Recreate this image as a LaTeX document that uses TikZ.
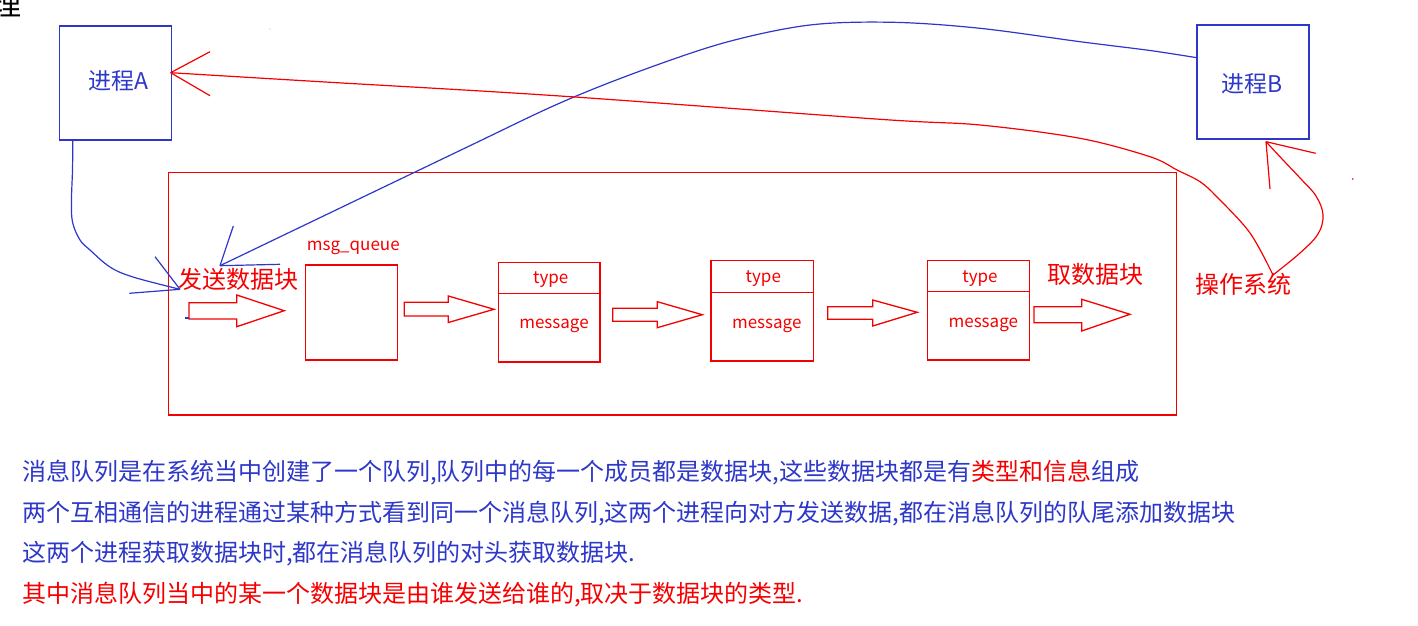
\documentclass[tikz,border=0pt]{standalone}
\usepackage{fontspec}
\setmainfont{Noto Sans CJK SC}
\usetikzlibrary{calc}
\definecolor{inkblue}{RGB}{45,55,200}
\definecolor{inkred}{RGB}{245,0,0}
\tikzset{
  procbox/.style={draw=inkblue, line width=1.3pt, minimum width=112, minimum height=114, inner sep=0pt},
  redbox/.style={draw=inkred, line width=1.3pt, inner sep=0pt},
  bluelbl/.style={text=inkblue, inner sep=0pt, anchor=base, font=\fontsize{23}{26}\selectfont},
  redlbl/.style={text=inkred, inner sep=0pt, anchor=base, font=\fontsize{24}{27}\selectfont},
  smalllbl/.style={text=inkred, inner sep=0pt, anchor=base, font=\fontsize{17}{20}\selectfont},
  noteline/.style={text=inkblue, inner sep=0pt, anchor=base west, font=\fontsize{24}{28}\selectfont},
  blueline/.style={draw=inkblue, line width=1.2pt},
  redline/.style={draw=inkred, line width=1.2pt},
  blockarrow/.style={draw=inkred, line width=1.3pt, line join=miter},
}
\begin{document}
\begin{tikzpicture}[x=1pt,y=-1pt]
\useasboundingbox (0,0) rectangle (1418,626);
\clip (0,0) rectangle (1418,626);

% cut-off title glyph
\node[inner sep=0pt, anchor=base, font=\fontsize{30}{32}\selectfont] (title) at (6,16) {理};
\fill[gray!60] (270,29) circle (0.6);

% processes
\node[procbox] (A) at (115.5,83) {};
\node[bluelbl] (Atxt) at (118,89.5) {进程A};
\node[procbox] (B) at (1253,82) {};
\node[bluelbl] (Btxt) at (1251.7,92.5) {进程B};

% operating system frame
\node[redbox, minimum width=1008.4, minimum height=242.7] (os) at (672.5,293.7) {};
\node[redlbl] (ostxt) at (1243.5,293) {操作系统};
\node[redlbl] (send) at (238,288) {发送数据块};
\node[redlbl] (recv) at (1095,283) {取数据块};

% msg_queue
\node[redbox, minimum width=92, minimum height=95] (mq) at (351.3,312.5) {};
\node[smalllbl] (mqtxt) at (353.3,250) {msg\_queue};

% message blocks
\node[redbox, minimum width=101.7, minimum height=99.7] (b1) at (549.2,312.2) {};
\draw[redline] ($(b1.north west)+(0,31.4)$) -- ($(b1.north east)+(0,31.4)$);
\node[smalllbl] (t1) at (550.7,283.3) {type};
\node[smalllbl] (m1) at (554,328.5) {message};

\node[redbox, minimum width=102.3, minimum height=100.3] (b2) at (762.2,310.9) {};
\draw[redline] ($(b2.north west)+(0,32)$) -- ($(b2.north east)+(0,32)$);
\node[smalllbl] (t2) at (763.3,282.6) {type};
\node[smalllbl] (m2) at (766.7,328.2) {message};

\node[redbox, minimum width=101.6, minimum height=99.3] (b3) at (978.5,310.4) {};
\draw[redline] ($(b3.north west)+(0,31.6)$) -- ($(b3.north east)+(0,31.6)$);
\node[smalllbl] (t3) at (980,282.3) {type};
\node[smalllbl] (m3) at (983.3,327.6) {message};

% hollow block arrows
\draw[blockarrow] (189,302.7) -- (236.7,302.7) -- (236.7,295) -- (284.3,310.7) -- (236.7,326.7) -- (236.7,319) -- (189,319) -- cycle;
\draw[blockarrow] (404.3,302.3) -- (448.3,302.3) -- (448.3,296) -- (494,309.3) -- (448.3,322.5) -- (448.3,316) -- (404.3,316) -- cycle;
\draw[blockarrow] (612.7,308.3) -- (657.3,308.3) -- (657.3,301.7) -- (702.3,314.7) -- (657.3,327.7) -- (657.3,321.3) -- (612.7,321.3) -- cycle;
\draw[blockarrow] (827.7,306.7) -- (872.7,306.7) -- (872.7,300) -- (917.3,312.3) -- (872.7,326) -- (872.7,319.3) -- (827.7,319.3) -- cycle;
\draw[blockarrow] (1034,306.7) -- (1081.7,306.7) -- (1081.7,299.3) -- (1130,314.3) -- (1081.7,331) -- (1081.7,322.7) -- (1034,322.7) -- cycle;

% connector coordinates
\coordinate (aStart) at ($(A.south west)+(14,0)$);
\coordinate (aTip) at (180,289.3);
\coordinate (bStart) at ($(B.north west)+(0,33.3)$);
\coordinate (bTip) at (220,265.7);
\coordinate (rTip) at ($(A.east)+(-1.5,-10.3)$);
\coordinate (osPt) at (1273,275);
\coordinate (rTipB) at (1266,141.7);

% A -> send (blue)
\draw[blueline] plot[smooth, tension=0.6] coordinates {(aStart) (72.5,170) (71.5,200) (72.5,222) (80,240) (90,250) (110,267) (133,277) (aTip)};
\draw[blueline] (aTip) -- (155,256.7);
\draw[blueline] (aTip) -- (129.3,293.3);

% B -> send (blue)
\draw[blueline] plot[smooth, tension=0.55] coordinates {(bStart) (1150,50.5) (1080,41.7) (980,28.3) (893,22.3) (810,25) (727,42) (643,70) (560,103) (460,150.5) (bTip)};
\draw[blueline] (bTip) -- (233.3,226);
\draw[blueline] (bTip) -- (280,264.3);
\draw[blueline] (185,318) -- (189,318);

% OS -> A (red)
\draw[redline] plot[smooth, tension=0.55] coordinates {(osPt) (1250,233) (1217,197) (1200,181.7) (1177,170) (1150,156.7) (1080,138.3) (980,125) (880,119.3) (560,96) (320,81.7) (rTip)};
\draw[redline] (rTip) -- (210,51.7);
\draw[redline] (rTip) -- (210,95.7);

% OS -> B (red)
\draw[redline] plot[smooth, tension=0.6] coordinates {(osPt) (1300,253) (1318,234) (1323,215) (1316,196) (1300,178) (1283,160) (rTipB)};
\draw[redline] (rTipB) -- (1270,189);
\draw[redline] (rTipB) -- (1315.7,153.3);
\fill[inkred] (1352.7,179) circle (0.8);

% notes
\node[noteline] (n1) at (22,480) {消息队列是在系统当中创建了一个队列,队列中的每一个成员都是数据块,这些数据块都是有{\color{inkred}类型和信息}组成};
\node[noteline] (n2) at (22,521) {两个互相通信的进程通过某种方式看到同一个消息队列,这两个进程向对方发送数据,都在消息队列的队尾添加数据块};
\node[noteline] (n3) at (22,561) {这两个进程获取数据块时,都在消息队列的对头获取数据块.};
\node[noteline, text=inkred] (n4) at (22,602) {其中消息队列当中的某一个数据块是由谁发送给谁的,取决于数据块的类型.};
\end{tikzpicture}
\end{document}
